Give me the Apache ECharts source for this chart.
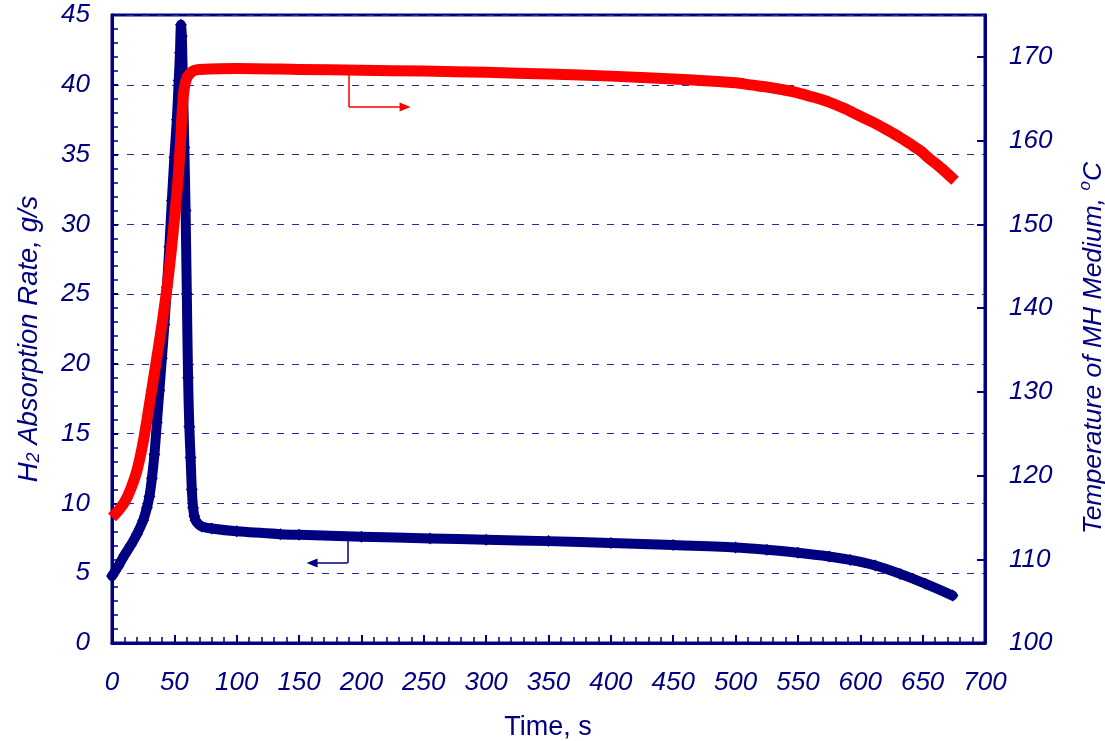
<!DOCTYPE html>
<html><head><meta charset="utf-8">
<script src="https://cdn.jsdelivr.net/npm/echarts@6/dist/echarts.min.js"></script>
<style>html,body{margin:0;padding:0;background:#fff}#c{width:1105px;height:741px}</style>
</head><body><div id="c"></div>
<script>
// H2 absorption rate (g/s) vs time (s) - left axis
const rateTime = [0,5,10,15,20,25,28,30,32,34,36,38,40,42,44,46,48,50,52,53.5,54.5,55.3,56,57,58,59,60,61,62,63,64,65,66,67,69,72,80,100,135,150,200,255,300,350,400,450,500,525,550,575,592,612,632,652,674];
const rateValues = [4.8,5.5,6.3,7.0,7.8,8.8,9.7,10.5,11.8,13.5,15.8,18.1,20.4,22.8,25.5,28.4,31.7,34.8,37.5,40.3,42.3,44.3,43.5,39.5,35.5,31.0,25.0,19.0,15.5,13.3,11.0,9.7,9.1,8.8,8.55,8.35,8.2,8.0,7.8,7.75,7.62,7.49,7.4,7.3,7.16,7.02,6.85,6.68,6.47,6.2,5.95,5.55,4.95,4.25,3.4];
// Temperature of MH medium (°C) vs time (s) - right axis
const tempTime = [0,5,10,15,20,25,30,35,40,45,50,53,55,56.5,58,60,63,66,70,100,150,200,250,300,350,400,450,475,500,512,525,537,550,562,575,587,600,610,620,630,640,648,655,665,676];
const tempValues = [115,115.8,116.8,118.4,120.6,124,128.5,133.2,138,143.5,150.5,155.5,160,164,166.3,167.5,168.1,168.4,168.5,168.6,168.5,168.4,168.3,168.15,167.95,167.7,167.35,167.15,166.9,166.65,166.4,166.1,165.7,165.2,164.6,163.85,162.9,162.2,161.4,160.55,159.6,158.8,157.9,156.7,155.2];
// axis ranges / ticks
const xRange = [0, 700, 50];
const rateRange = [0, 45, 5];
const tempRange = [100, 175, 10];
// annotation arrows (data coordinates)
const rateArrow = [[189, 7.3], [189, 5.73], [160.4, 5.73]];
const tempArrow = [[190, 168.2], [190, 164.0], [235, 164.0]];

const NAVY = '#000080';
const RED = '#ff0000';
const FONT = 'Arial, "Liberation Sans", sans-serif';
const tickFont = {color: NAVY, fontStyle: 'italic', fontSize: 26, fontFamily: FONT};

const chart = echarts.init(document.getElementById('c'));
const arrowLine = (pts, color) => ({
  silent: true, animation: false,
  symbol: ['none', 'none'],
  label: {show: false},
  emphasis: {disabled: true},
  lineStyle: {color: color, width: 1.5, type: 'solid'},
  data: [
    [{coord: pts[0]}, {coord: pts[1]}],
    [{coord: pts[1]}, {coord: pts[2], symbol: 'triangle', symbolSize: [9, 11]}]
  ]
});

chart.setOption({
  animation: false,
  grid: {left: 112, right: 120, top: 15, bottom: 98, show: true, borderColor: NAVY, borderWidth: 3},
  xAxis: {
    type: 'value', min: xRange[0], max: xRange[1], interval: xRange[2],
    axisLine: {show: true, lineStyle: {color: NAVY, width: 3}},
    axisTick: {show: true, inside: true, length: 8, lineStyle: {color: NAVY, width: 2}},
    minorTick: {show: true, splitNumber: 5, length: 6, lineStyle: {color: NAVY, width: 1.5}},
    axisLabel: Object.assign({margin: 27}, tickFont),
    splitLine: {show: false}
  },
  yAxis: [{
    type: 'value', position: 'left', min: rateRange[0], max: rateRange[1], interval: rateRange[2],
    axisLine: {show: true, lineStyle: {color: NAVY, width: 3}},
    axisTick: {show: true, inside: true, length: 6, lineStyle: {color: NAVY, width: 2}},
    minorTick: {show: true, splitNumber: 5, length: 6, lineStyle: {color: NAVY, width: 1.5}},
    axisLabel: Object.assign({margin: 22}, tickFont),
    splitLine: {show: true, lineStyle: {color: '#2a2a98', width: 1, type: [7, 8]}}
  }, {
    type: 'value', position: 'right', min: tempRange[0], max: tempRange[1], interval: tempRange[2],
    axisLine: {show: true, lineStyle: {color: NAVY, width: 3}},
    axisTick: {show: true, inside: true, length: 8, lineStyle: {color: NAVY, width: 2}},
    axisLabel: Object.assign({margin: 24, showMaxLabel: false}, tickFont),
    splitLine: {show: false}
  }],
  series: [{
    name: 'H2 Absorption Rate', type: 'line', yAxisIndex: 0, z: 2,
    data: rateTime.map((t, i) => [t, rateValues[i]]),
    symbol: 'diamond', symbolSize: 12, showSymbol: true, showAllSymbol: true,
    itemStyle: {color: NAVY}, lineStyle: {color: NAVY, width: 10, join: 'round', cap: 'round'},
    smooth: 0.3,
    markLine: arrowLine(rateArrow, NAVY)
  }, {
    name: 'Temperature of MH Medium', type: 'line', yAxisIndex: 1, z: 3,
    data: tempTime.map((t, i) => [t, tempValues[i]]),
    symbol: 'none', lineStyle: {color: RED, width: 11, join: 'round'},
    smooth: 0.3,
    markLine: arrowLine(tempArrow, RED)
  }],
  graphic: [{
    type: 'text', x: 28, y: 339, rotation: Math.PI / 2,
    style: {
      text: '{a|H}{s|2}{a| Absorption Rate, g/s}',
      align: 'center', verticalAlign: 'middle',
      rich: {
        a: {fontSize: 27.5, fontStyle: 'italic', fontFamily: FONT, fill: NAVY, lineHeight: 30, verticalAlign: 'bottom'},
        s: {fontSize: 18, fontStyle: 'italic', fontFamily: FONT, fill: NAVY, lineHeight: 16, verticalAlign: 'bottom'}
      }
    }
  }, {
    type: 'text', x: 1092, y: 348, rotation: Math.PI / 2,
    style: {
      text: '{a|Temperature of MH Medium, }{o|o}{a|C}',
      align: 'center', verticalAlign: 'middle',
      rich: {
        a: {fontSize: 26.5, fontStyle: 'italic', fontFamily: FONT, fill: NAVY, lineHeight: 30, verticalAlign: 'bottom'},
        o: {fontSize: 17, fontStyle: 'italic', fontFamily: FONT, fill: NAVY, lineHeight: 16, verticalAlign: 'top'}
      }
    }
  }, {
    type: 'text', x: 548, y: 728,
    style: {text: 'Time, s', align: 'center', verticalAlign: 'middle', fontSize: 27, fontFamily: FONT, fill: NAVY}
  }]
});
</script></body></html>
